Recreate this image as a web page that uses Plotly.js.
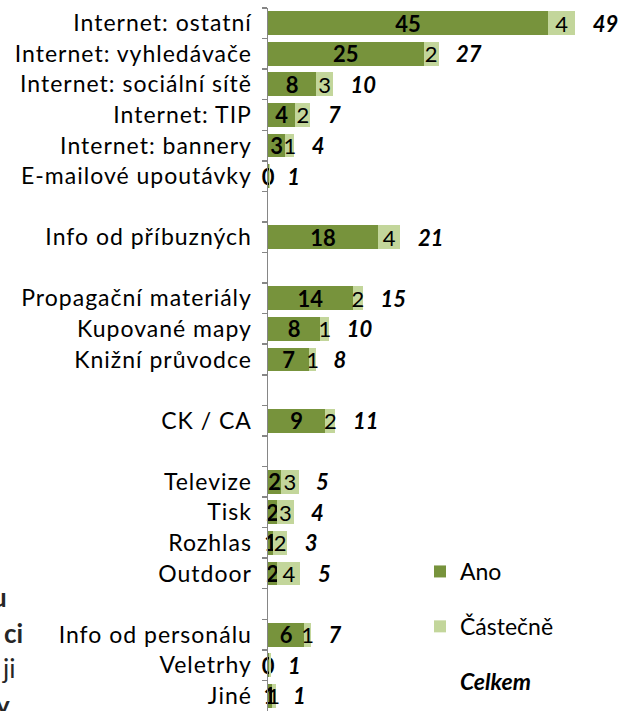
<!DOCTYPE html>
<html><head><meta charset="utf-8">
<script src="https://cdn.plot.ly/plotly-3.0.1.min.js"></script>
<style>
html,body{margin:0;padding:0;background:#fff;}
#chart .ytick text{letter-spacing:1px;}
</style>
</head><body><div id="chart" style="width:621px;height:711px;"></div>
<script>
// ---- data ----
const categories = ['Internet: ostatní','Internet: vyhledávače','Internet: sociální sítě','Internet: TIP','Internet: bannery','E-mailové upoutávky','\u200b','Info od příbuzných','\u200b\u200b','Propagační materiály','Kupované mapy','Knižní průvodce','\u200b\u200b\u200b','CK / CA','\u200b\u200b\u200b\u200b','Televize','Tisk','Rozhlas','Outdoor','\u200b\u200b\u200b\u200b\u200b','Info od personálu','Veletrhy','Jiné'];
const ano      = [44.8, 24.9, 7.7, 4.4, 2.8, 0.1, null, 17.6, null, 13.6, 8.4, 6.6, null, 9.2, null, 2.1, 1.5, 0.8, 1.5, null, 5.8, 0.1, 0.6];
const castecne = [4.4, 2.4, 2.7, 2.4, 1.4, 0.2, null, 3.6, null, 1.6, 1.4, 1.1, null, 1.6, null, 2.8, 2.6, 2.3, 3.7, null, 1.1, 0.3, 0.6];
const anoLabels      = ['45','25','8','4','3','0','','18','','14','8','7','','9','','2','2','1','2','','6','0','1'];
const castecneLabels = ['4','2','3','2','1','','','4','','2','1','1','','2','','3','3','2','4','','1','','1'];
const celkemLabels   = ['49','27','10','7','4','1','','21','','15','10','8','','11','','5','4','3','5','','7','1','1'];
const seriesNames = ['Ano','Částečně','<b><i>Celkem</i></b>'];
const sideFragments = ['<b>u</b>','<b>ci</b>','ji','<b>y</b>'];

// ---- layout helpers ----
const W = 621, H = 711, L = 268, T = 8, R = 0, B = 0;
const pw = W - L - R, ph = H - T - B;
const px2x = p => (p - L) / pw;
const px2y = p => 1 - (p - T) / ph;
const FONT = 'Lato, "Open Sans", sans-serif';
const DARK = '#77933C', LIGHT = '#C3D69B';

const celkemSpan = celkemLabels.map(t => t === '' ? null : 5);

const common = {type:'bar', orientation:'h', y:categories, textposition:'inside',
  insidetextanchor:'middle', textangle:0, constraintext:'none', cliponaxis:false, hoverinfo:'skip'};

const traces = [
  Object.assign({}, common, {x:ano, name:seriesNames[0], legendgroup:'a', marker:{color:DARK},
    text:anoLabels, textfont:{family:FONT, size:22, color:'#000', weight:'bold'},
    insidetextfont:{family:FONT, size:22, color:'#000', weight:'bold'}}),
  Object.assign({}, common, {x:castecne, name:seriesNames[1], legendgroup:'b', marker:{color:LIGHT},
    text:castecneLabels, textfont:{family:FONT, size:22, color:'#000'},
    insidetextfont:{family:FONT, size:22, color:'#000'}}),
  Object.assign({}, common, {x:celkemSpan, name:seriesNames[2], legendgroup:'c',
    marker:{color:'rgba(0,0,0,0)'}, text:celkemLabels, insidetextanchor:'start',
    texttemplate:'\u00a0\u00a0\u00a0%{text}',
    textfont:{family:FONT, size:22, color:'#000', weight:'bold', style:'italic'},
    insidetextfont:{family:FONT, size:22, color:'#000', weight:'bold', style:'italic'}})
];

const fragY = [597, 633, 668, 705];
const fragX = [9, 25, 17, 12];
const annotations = sideFragments.map((t, i) => ({
  text:t, xref:'paper', yref:'paper', x:px2x(fragX[i]), y:px2y(fragY[i]),
  xanchor:'right', yanchor:'middle', showarrow:false,
  font:{family:FONT, size:26, color:'#262626'}
}));

const layout = {
  width:W, height:H, margin:{l:L, r:R, t:T, b:B, pad:0},
  paper_bgcolor:'#fff', plot_bgcolor:'#fff',
  barmode:'stack', bargap:0.22, showlegend:true,
  xaxis:{range:[0,56.5], visible:false, fixedrange:true},
  yaxis:{type:'category', categoryorder:'array', categoryarray:categories,
    range:[22.5,-0.5], autorange:false, showline:true, linecolor:'#868686', linewidth:1.5,
    ticks:'outside', ticklen:5, tickwidth:1.5, tickcolor:'#868686', tickson:'boundaries',
    showgrid:false, zeroline:false, ticklabelstandoff:10,
    tickfont:{family:FONT, size:23, color:'#000'}, fixedrange:true},
  legend:{x:px2x(420), y:px2y(550), xanchor:'left', yanchor:'top', traceorder:'grouped',
    tracegroupgap:22, bgcolor:'rgba(0,0,0,0)', font:{family:FONT, size:23, color:'#000'}},
  annotations:annotations
};

Plotly.newPlot('chart', traces, layout, {displayModeBar:false, staticPlot:true});
</script>
</body></html>
